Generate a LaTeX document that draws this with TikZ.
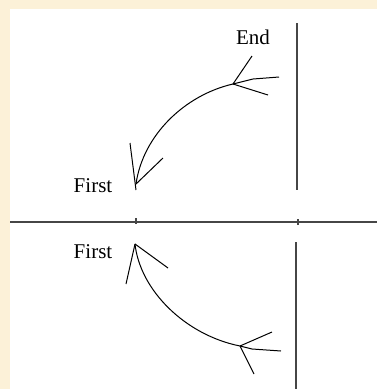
\documentclass[tikz,border=0pt]{standalone}
\usepackage{fontspec}
\setmainfont{Liberation Serif}
\definecolor{paper}{RGB}{252,241,216}
\definecolor{axisgray}{RGB}{70,70,70}
\begin{document}
\begin{tikzpicture}[x=1pt,y=-1pt,
  lbl/.style={inner sep=0pt,font=\fontsize{21}{21}\selectfont},
  ink/.style={black,line width=1pt},
  axis/.style={axisgray,line width=1.4pt}]
\fill[paper] (0,0) rectangle (377,389);
\fill[white] (10,9) rectangle (377,389);
\useasboundingbox (0,0) rectangle (377,389);
% top half
\coordinate (vt1) at (297,23);
\coordinate (vt2) at (297,190);
\draw[axis] (vt1) -- (vt2);
\node[lbl] (endlbl) at (253,37) {End};
\node[lbl] (first1) at (93,186) {First};
\coordinate (E1) at (233,84);
\coordinate (F1) at (136,184);
\draw[ink] (E1) .. controls (185,95) and (143,135) .. (F1);
\coordinate (f1a) at (252,56);
\coordinate (f1b) at (279,77);
\coordinate (f1c) at (268,95);
\draw[ink] (E1) -- (f1a);
\draw[ink] (E1) -- (253,79) -- (f1b);
\draw[ink] (E1) -- (f1c);
\coordinate (b1a) at (130,143);
\coordinate (b1b) at (136,190);
\coordinate (b1c) at (163,158);
\draw[ink] (b1a) -- (b1b);
\draw[ink] (b1c) -- (F1);
% horizontal axis
\coordinate (h1) at (10,222);
\coordinate (h2) at (377,222);
\draw[axis] (h1) -- (h2);
\coordinate (t1a) at (136,218);
\coordinate (t1b) at (136,224);
\coordinate (t2a) at (298,219);
\coordinate (t2b) at (298,225);
\draw[axis] (t1a) -- (t1b);
\draw[axis] (t2a) -- (t2b);
% bottom half
\coordinate (vb1) at (296,242);
\coordinate (vb2) at (296,389);
\draw[axis] (vb1) -- (vb2);
\node[lbl] (first2) at (93,252) {First};
\coordinate (F2) at (135,244);
\coordinate (E2) at (240,346);
\draw[ink] (F2) .. controls (140,290) and (185,335) .. (E2);
\coordinate (b2a) at (126,284);
\coordinate (b2c) at (168,268);
\draw[ink] (F2) -- (b2a);
\draw[ink] (F2) -- (b2c);
\coordinate (f2a) at (272,332);
\coordinate (f2b) at (281,351);
\coordinate (f2c) at (254,374);
\draw[ink] (E2) -- (f2a);
\draw[ink] (E2) -- (252,349) -- (f2b);
\draw[ink] (E2) -- (f2c);
\end{tikzpicture}
\end{document}
